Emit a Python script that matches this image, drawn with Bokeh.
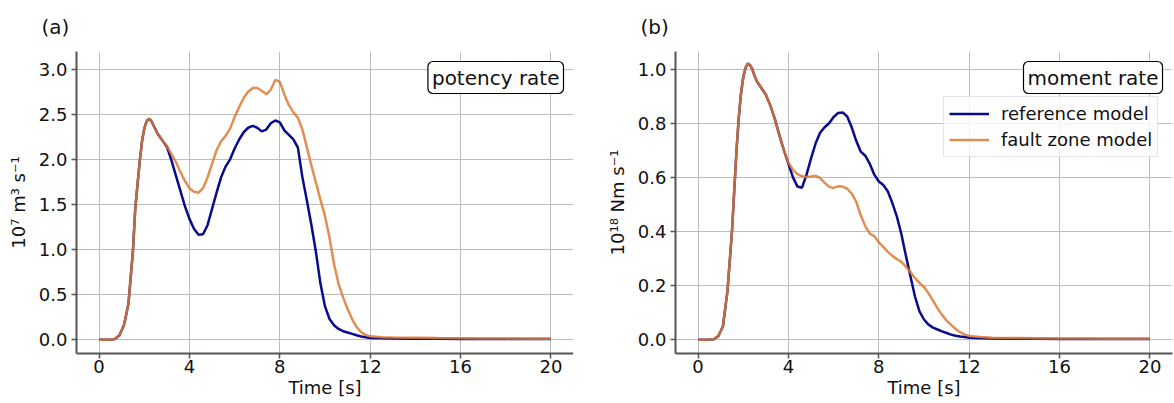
from bokeh.plotting import figure
from bokeh.layouts import row
from bokeh.models import Range1d, FixedTicker, Label, Legend, LegendItem
from bokeh.embed import file_html
from bokeh.resources import INLINE

# ---------------- data ----------------
time_s = [0, 0.5, 0.7, 0.9, 1.1, 1.3, 1.5,
          1.6, 1.7, 1.8, 1.9, 2.0, 2.1, 2.2, 2.3, 2.4, 2.5, 2.6,
          2.8, 3.0, 3.2, 3.4, 3.6, 3.8, 4.0, 4.2, 4.4, 4.6, 4.8,
          5.0, 5.2, 5.4, 5.6, 5.8, 6.0, 6.2, 6.4, 6.6, 6.8,
          7.0, 7.2, 7.4, 7.6, 7.8, 8.0, 8.2, 8.4, 8.6, 8.8,
          9.0, 9.2, 9.4, 9.6, 9.8, 10.0, 10.2, 10.4, 10.6, 10.8,
          11.0, 11.2, 11.4, 11.6, 11.8, 12.0,
          12.5, 13, 14, 15, 16, 17, 18, 19, 20]

potency_reference = [0.0, 0.0, 0.008, 0.05, 0.16, 0.40, 0.99,
                     1.45, 1.72, 1.98, 2.20, 2.34, 2.42, 2.45, 2.43, 2.38, 2.33, 2.28,
                     2.21, 2.14, 1.99, 1.82, 1.65, 1.48, 1.34, 1.23, 1.165, 1.17, 1.27,
                     1.45, 1.63, 1.80, 1.92, 2.00, 2.12, 2.22, 2.30, 2.35, 2.37,
                     2.35, 2.31, 2.33, 2.40, 2.43, 2.41, 2.32, 2.27, 2.22, 2.13,
                     1.80, 1.54, 1.27, 0.97, 0.62, 0.37, 0.23, 0.16, 0.12, 0.095,
                     0.08, 0.066, 0.05, 0.037, 0.028, 0.021,
                     0.016, 0.014, 0.012, 0.011, 0.01, 0.01, 0.01, 0.01, 0.01]

potency_fault_zone = [0.0, 0.0, 0.008, 0.05, 0.16, 0.40, 0.99,
                      1.45, 1.72, 1.98, 2.20, 2.34, 2.42, 2.45, 2.43, 2.38, 2.33, 2.28,
                      2.21, 2.15, 2.06, 1.97, 1.86, 1.76, 1.68, 1.64, 1.63, 1.68, 1.80,
                      1.95, 2.10, 2.20, 2.26, 2.34, 2.47, 2.58, 2.68, 2.75, 2.79,
                      2.79, 2.76, 2.72, 2.77, 2.88, 2.86, 2.72, 2.60, 2.52, 2.46,
                      2.33, 2.13, 1.93, 1.74, 1.55, 1.37, 1.13, 0.84, 0.62, 0.47,
                      0.34, 0.23, 0.14, 0.085, 0.055, 0.038,
                      0.028, 0.025, 0.022, 0.019, 0.017, 0.015, 0.013, 0.012, 0.011]

moment_reference = [0.0, 0.0, 0.002, 0.014, 0.05, 0.18, 0.40,
                    0.55, 0.70, 0.82, 0.91, 0.97, 1.005, 1.02, 1.015, 1.0, 0.975, 0.955,
                    0.93, 0.905, 0.865, 0.815, 0.755, 0.70, 0.65, 0.60, 0.566, 0.562, 0.61,
                    0.67, 0.725, 0.765, 0.785, 0.80, 0.823, 0.838, 0.84, 0.825, 0.785,
                    0.735, 0.695, 0.68, 0.65, 0.61, 0.585, 0.572, 0.548, 0.505, 0.455,
                    0.39, 0.31, 0.235, 0.16, 0.105, 0.075, 0.056, 0.045, 0.038, 0.031,
                    0.025, 0.019, 0.015, 0.012, 0.01, 0.008,
                    0.006, 0.005, 0.004, 0.004, 0.003, 0.003, 0.003, 0.003, 0.003]

moment_fault_zone = [0.0, 0.0, 0.002, 0.014, 0.05, 0.18, 0.40,
                     0.55, 0.70, 0.82, 0.91, 0.97, 1.005, 1.02, 1.015, 1.0, 0.975, 0.955,
                     0.93, 0.905, 0.865, 0.815, 0.755, 0.70, 0.655, 0.628, 0.612, 0.604, 0.601,
                     0.603, 0.606, 0.598, 0.58, 0.565, 0.561, 0.567, 0.566, 0.558, 0.54,
                     0.51, 0.46, 0.42, 0.392, 0.383, 0.36, 0.343, 0.325, 0.31, 0.298,
                     0.288, 0.27, 0.25, 0.228, 0.21, 0.195, 0.172, 0.145, 0.116, 0.092,
                     0.071, 0.055, 0.04, 0.028, 0.02, 0.014,
                     0.01, 0.008, 0.007, 0.006, 0.005, 0.005, 0.004, 0.004, 0.004]

x_ticks = [0, 4, 8, 12, 16, 20]
x_tick_labels = ["0", "4", "8", "12", "16", "20"]
ya_ticks = [0.0, 0.5, 1.0, 1.5, 2.0, 2.5, 3.0]
ya_tick_labels = ["0.0", "0.5", "1.0", "1.5", "2.0", "2.5", "3.0"]
yb_ticks = [0.0, 0.2, 0.4, 0.6, 0.8, 1.0]
yb_tick_labels = ["0.0", "0.2", "0.4", "0.6", "0.8", "1.0"]

series_names = ["reference model", "fault zone model"]
BLUE = "#0a0a8c"
ORANGE = "#dd7a35"
FONT = "DejaVu Sans"

FRAME_W = 497
FRAME_H = 302


def make_panel(width, left, yr, yticks, ylabels, ylabel, ref, fz, tag, box_text):
    p = figure(width=width, height=403, output_backend="svg", toolbar_location=None,
               x_range=Range1d(-1, 21), y_range=yr,
               min_border_left=left, min_border_right=width - left - FRAME_W,
               min_border_top=51, min_border_bottom=50)
    p.outline_line_color = None
    p.background_fill_color = "white"
    p.border_fill_color = "white"

    p.title.text = tag
    p.title.align = "left"
    p.title.offset = -35
    p.title.standoff = 25
    p.title.text_font = FONT
    p.title.text_font_size = "20px"
    p.title.text_font_style = "normal"
    p.title.text_color = "#111111"

    for ax in (p.xaxis[0], p.yaxis[0]):
        ax.axis_line_color = "#555555"
        ax.axis_line_width = 2
        ax.major_tick_line_color = "#555555"
        ax.major_tick_line_width = 1.5
        ax.major_tick_out = 5
        ax.major_tick_in = 0
        ax.minor_tick_line_color = None
        ax.major_label_text_font = FONT
        ax.major_label_text_font_size = "18px"
        ax.major_label_text_color = "#111111"
        ax.axis_label_text_font = FONT
        ax.axis_label_text_font_size = "18px"
        ax.axis_label_text_font_style = "normal"
        ax.axis_label_text_color = "#111111"

    p.xaxis.ticker = FixedTicker(ticks=x_ticks)
    p.xaxis.major_label_overrides = {t: l for t, l in zip(x_ticks, x_tick_labels)}
    p.yaxis.ticker = FixedTicker(ticks=yticks)
    p.yaxis.major_label_overrides = {t: l for t, l in zip(yticks, ylabels)}
    p.xaxis.axis_label = "Time [s]"
    p.yaxis.axis_label = ylabel
    p.xaxis.major_label_standoff = 1
    p.xaxis.axis_label_standoff = 1
    p.yaxis.major_label_standoff = 4
    p.yaxis.axis_label_standoff = 7

    p.xgrid.ticker = FixedTicker(ticks=x_ticks)
    p.ygrid.ticker = FixedTicker(ticks=yticks)
    for g in (p.xgrid[0], p.ygrid[0]):
        g.grid_line_color = "#bdbdbd"
        g.grid_line_width = 1

    r1 = p.line(time_s, ref, line_color=BLUE, line_width=2.5)
    r2 = p.line(time_s, fz, line_color=ORANGE, line_width=2.5, line_alpha=0.85)

    p.add_layout(Label(x=FRAME_W - 10, y=FRAME_H - 10, x_units="screen", y_units="screen",
                       text=box_text, text_font=FONT, text_font_size="20px",
                       text_align="right", text_baseline="top", text_color="#111111",
                       background_fill_color="white", border_line_color="black",
                       border_line_width=1.2, padding=4, border_radius=5))
    return p, r1, r2


pa, _, _ = make_panel(573, 76, Range1d(-0.152, 3.195), ya_ticks, ya_tick_labels,
                      "10\u2077 m\u00b3 s\u207b\u00b9", potency_reference, potency_fault_zone,
                      "(a)", "potency rate")
pb, rb1, rb2 = make_panel(601, 102, Range1d(-0.0506, 1.065), yb_ticks, yb_tick_labels,
                          "10\u00b9\u2078 Nm s\u207b\u00b9", moment_reference, moment_fault_zone,
                          "(b)", "moment rate")

legend = Legend(items=[LegendItem(label=series_names[0], renderers=[rb1]),
                       LegendItem(label=series_names[1], renderers=[rb2])],
                location=(268, 196))
legend.label_text_font = FONT
legend.label_text_font_size = "18px"
legend.label_text_color = "#111111"
legend.glyph_width = 40
legend.glyph_height = 23
legend.label_height = 23
legend.label_standoff = 12
legend.spacing = 3
legend.padding = 5
legend.margin = 0
legend.border_line_color = "#cccccc"
legend.border_line_width = 1
legend.background_fill_color = "white"
legend.background_fill_alpha = 0.8
pb.add_layout(legend, "center")

layout = row(pa, pb)
open("out.html", "w").write(file_html(layout, INLINE))
